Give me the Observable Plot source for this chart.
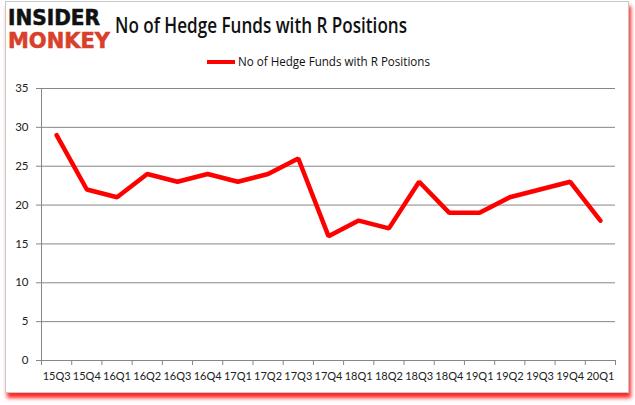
<!DOCTYPE html>
<html><head><meta charset="utf-8">
<script src="https://cdn.jsdelivr.net/npm/d3@7"></script>
<script src="https://cdn.jsdelivr.net/npm/@observablehq/plot@0.6"></script>
<style>
body{margin:0;background:#fff;}
#wrap{position:relative;width:635px;height:405px;overflow:hidden;background:#fff;}
#frame{position:absolute;left:5px;top:1px;width:622px;height:390px;border:1px solid #c8c8c8;box-shadow:2px 5px 4px rgba(255,0,0,0.85);background:#fff;}
#chart{position:absolute;left:0;top:0;}
#over{position:absolute;left:0;top:0;}
</style></head>
<body>
<div id="wrap"><div id="frame"></div><div id="chart"></div>
<svg id="over" width="635" height="80">
  <text x="8" y="25" font-family="DejaVu Sans" font-weight="bold" font-size="22" fill="#111" textLength="92" lengthAdjust="spacingAndGlyphs" stroke="#111" stroke-width="0.6">INSIDER</text>
  <text x="8" y="48" font-family="DejaVu Sans" font-weight="bold" font-size="22" fill="#d9402b" textLength="102" lengthAdjust="spacingAndGlyphs" stroke="#d9402b" stroke-width="0.6">MONKEY</text>
  <text x="115" y="33" font-family="Open Sans" font-weight="600" font-size="21" fill="#111" textLength="292" lengthAdjust="spacingAndGlyphs">No of Hedge Funds with R Positions</text>
  <line x1="207" x2="235" y1="62" y2="62" stroke="red" stroke-width="4"/>
  <text x="238" y="66" font-family="Open Sans" font-size="12" fill="#111" textLength="192" lengthAdjust="spacingAndGlyphs">No of Hedge Funds with R Positions</text>
</svg>
</div>
<script>
const quarters = ["15Q3","15Q4","16Q1","16Q2","16Q3","16Q4","17Q1","17Q2","17Q3","17Q4","18Q1","18Q2","18Q3","18Q4","19Q1","19Q2","19Q3","19Q4","20Q1"];
const funds = [29,22,21,24,23,24,23,24,26,16,18,17,23,19,19,21,22,23,18];
const yTicks = [0,5,10,15,20,25,30,35];

const n = quarters.length;
const centers = d3.range(n).map(i => i + 0.5);
const bounds = d3.range(n + 1);

const plot = Plot.plot({
  width: 635, height: 405,
  marginLeft: 41, marginRight: 20, marginTop: 88, marginBottom: 45,
  style: {background: "transparent", fontFamily: "Lato, sans-serif"},
  x: {type: "linear", domain: [0, n], axis: null},
  y: {domain: [0, 35], axis: null},
  marks: [
    Plot.ruleY(yTicks, {stroke: "#868686", strokeWidth: 1}),
    Plot.ruleX([0], {stroke: "#868686"}),
    Plot.axisY(yTicks, {tickSize: 5, tickFormat: () => "", color: "#868686"}),
    Plot.axisY(yTicks, {tickSize: 0, tickPadding: 13, color: "#222", fontSize: 11.5}),
    Plot.axisX(bounds, {tickSize: 5, tickFormat: () => "", color: "#868686"}),
    Plot.axisX(centers, {tickSize: 0, tickPadding: 12, color: "#222", fontSize: 11, tickFormat: v => quarters[Math.round(v - 0.5)]}),
    Plot.line(funds, {x: (d, i) => i + 0.5, y: d => d, stroke: "red", strokeWidth: 4.5, strokeLinejoin: "miter"})
  ]
});
document.getElementById("chart").appendChild(plot);
</script>
</body></html>
